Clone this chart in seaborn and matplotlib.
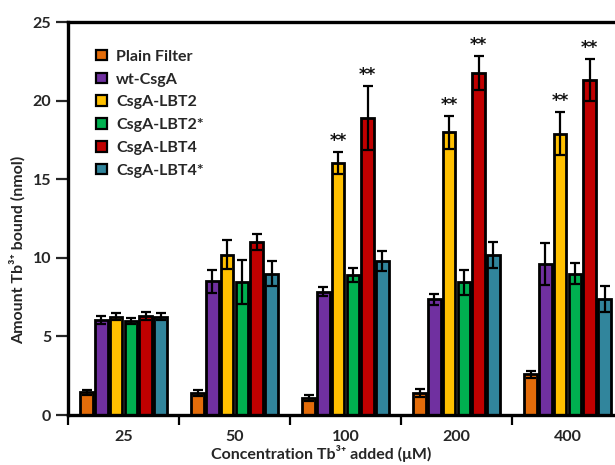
import numpy as np
import pandas as pd
import matplotlib
matplotlib.use("Agg")
import matplotlib.pyplot as plt
from matplotlib.patches import Patch
import seaborn as sns

# Tb3+ binding data
concentrations = ["25", "50", "100", "200", "400"]
samples = ["Plain Filter", "wt-CsgA", "CsgA-LBT2", "CsgA-LBT2*", "CsgA-LBT4", "CsgA-LBT4*"]
colors = ["#E36C0A", "#7030A0", "#FFC000", "#00B050", "#C00000", "#31859C"]

plain_filter = [1.45, 1.40, 1.10, 1.40, 2.60]
wt_csga = [6.05, 8.50, 7.85, 7.35, 9.60]
lbt2 = [6.25, 10.20, 16.00, 18.00, 17.90]
lbt2_star = [6.00, 8.45, 8.90, 8.45, 9.00]
lbt4 = [6.30, 11.00, 18.90, 21.75, 21.30]
lbt4_star = [6.25, 9.00, 9.80, 10.20, 7.40]

plain_filter_err = [0.17, 0.22, 0.20, 0.28, 0.22]
wt_csga_err = [0.25, 0.72, 0.30, 0.35, 1.35]
lbt2_err = [0.22, 0.93, 0.70, 1.05, 1.35]
lbt2_star_err = [0.18, 1.40, 0.45, 0.80, 0.68]
lbt4_err = [0.23, 0.50, 2.05, 1.08, 1.35]
lbt4_star_err = [0.22, 0.80, 0.65, 0.82, 0.82]

# significance marks on CsgA-LBT2 and CsgA-LBT4
significant = ["100", "200", "400"]
marked_samples = ["CsgA-LBT2", "CsgA-LBT4"]

values = [plain_filter, wt_csga, lbt2, lbt2_star, lbt4, lbt4_star]
errors = [plain_filter_err, wt_csga_err, lbt2_err, lbt2_star_err, lbt4_err, lbt4_star_err]

df = pd.DataFrame({
    "conc": np.tile(concentrations, len(samples)),
    "sample": np.repeat(samples, len(concentrations)),
    "value": np.concatenate(values),
    "err": np.concatenate(errors),
})

sns.set_theme(style="ticks")
plt.rcParams["font.family"] = ["Lato", "DejaVu Sans"]
plt.rcParams["font.weight"] = "bold"

fig = plt.figure(figsize=(6.15, 4.65), dpi=100)
ax = fig.add_axes([68 / 615, 50 / 465, 555 / 615, 393 / 465])

sns.barplot(data=df, x="conc", y="value", hue="sample", order=concentrations,
            hue_order=samples, palette=colors, errorbar=None, width=0.8, gap=0.14,
            edgecolor="black", linewidth=2.0, saturation=1, legend=False, ax=ax)

# error bars and significance stars on top of each bar
for container, name, err in zip(ax.containers, samples, errors):
    for rect, e, conc in zip(container.patches, err, concentrations):
        xc = rect.get_x() + rect.get_width() / 2
        h = rect.get_height()
        ax.errorbar(xc, h, yerr=e, fmt="none", ecolor="black", elinewidth=1.6,
                    capsize=3.8, capthick=1.6, zorder=5)
        if name in marked_samples and conc in significant:
            ax.text(xc, h + e + 0.7, "**", ha="center", va="center",
                    fontsize=12, fontweight="bold", color="#111111",
                    family=["DejaVu Sans"], zorder=6)

ax.set_ylim(0, 25)
ax.set_xlim(-0.5, 4.5)
ax.set_yticks([0, 5, 10, 15, 20, 25])

# group separators as minor ticks
ax.set_xticks(np.arange(-0.5, 4.6, 1.0), minor=True)
ax.tick_params(axis="x", which="major", length=0, pad=11, labelsize=11.5)
ax.tick_params(axis="x", which="minor", length=7, width=1.6, direction="out", color="black")
ax.tick_params(axis="y", which="major", length=9, width=1.6, direction="out", labelsize=11.5, pad=3)
for lab in ax.get_xticklabels() + ax.get_yticklabels():
    lab.set_fontweight("bold")

for side in ["left", "bottom", "top"]:
    ax.spines[side].set_linewidth(2.4)
    ax.spines[side].set_color("black")
ax.spines["right"].set_visible(False)

ax.set_xlabel("Concentration Tb³⁺ added (μM)", fontsize=11.5, fontweight="bold")
ax.set_ylabel("Amount Tb³⁺ bound (nmol)", fontsize=11.5, fontweight="bold")
ax.xaxis.set_label_coords((321 - 68) / 555, -0.076)
ax.yaxis.set_label_coords(-0.077, 0.42)

handles = [Patch(facecolor=c, edgecolor="black", linewidth=1.6) for c in colors]
leg = ax.legend(handles, samples, loc="upper left", bbox_to_anchor=(0.025, 0.966),
                frameon=False, fontsize=11.5, handlelength=0.65, handleheight=0.65,
                handletextpad=0.6, labelspacing=0.55)
for t in leg.get_texts():
    t.set_fontweight("bold")

fig.savefig("out.png", dpi=100)
